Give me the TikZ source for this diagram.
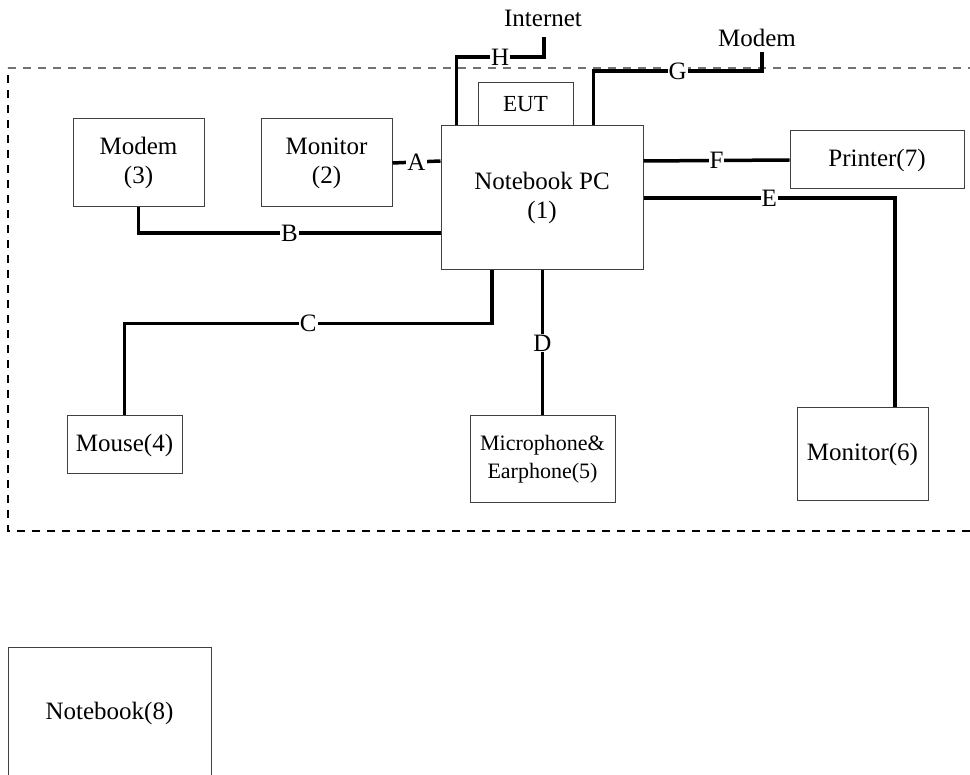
\documentclass[tikz,border=0pt]{standalone}
\usepackage{fontspec}
\setmainfont{Liberation Serif}
\begin{document}
\begin{tikzpicture}[x=1pt,y=-1pt, font=\fontsize{25}{29}\selectfont, line join=miter,
	box/.style={draw=black!75, line width=1pt, inner sep=0pt, align=center},
	cable/.style={line width=3.5pt},
	lbl/.style={fill=white, inner sep=1pt},
	frame/.style={line width=1.1pt, dash pattern=on 8pt off 7pt}]
	\useasboundingbox (0,0) rectangle (970,775);
	% dashed test area
	\draw[frame, black!55] (8,68)--(970,68);
	\draw[frame] (970,531)--(8,531)--(8,68);
	% units
	\node[box, minimum width=202, minimum height=144] (pc) at (542,198) {Notebook PC\\(1)};
	\node[box, minimum width=95, minimum height=43, font=\fontsize{23}{27}\selectfont] (eut) at (525.5,104.5) {EUT};
	\node[box, minimum width=131, minimum height=88] (modem3) at (138.5,163) {Modem\\(3)};
	\node[box, minimum width=131, minimum height=88] (monitor2) at (326.5,163) {Monitor\\(2)};
	\node[box, minimum width=174, minimum height=58] (printer) at (877,160) {Printer(7)};
	\node[box, minimum width=115, minimum height=58] (mouse) at (124.5,445) {Mouse(4)};
	\node[box, minimum width=145, minimum height=87, font=\fontsize{22}{28}\selectfont] (mic) at (542.5,459.5) {Microphone\&\\Earphone(5)};
	\node[box, minimum width=131, minimum height=93] (monitor6) at (862.5,454.5) {Monitor(6)};
	\node (internet) at (543,18) {Internet};
	\node (modemtop) at (757,38) {Modem};
	\coordinate (hend) at (544,37); \coordinate (gend) at (762,52);
	% cables
	\draw[cable] ([xshift=16pt]pc.north west) |- node[lbl,pos=0.75]{H} ([yshift=-20pt]hend) -- (hend);
	\draw[cable] ([xshift=-50pt]pc.north east) |- node[lbl,pos=0.75]{G} ([yshift=-19pt]gend) -- (gend);
	\draw[cable] (monitor2.east) -- node[lbl]{A} ([yshift=37pt]pc.west);
	\draw[cable] (modem3.south) |- node[lbl,pos=0.75]{B} ([yshift=-35pt]pc.west);
	\draw[cable] ([xshift=-50pt]pc.south) -- ++(0,53) -| node[lbl,pos=0.25]{C} (mouse.north);
	\draw[cable] (mic.north |- pc.south) -- node[lbl]{D} (mic.north);
	\draw[cable] (pc.east) -| node[lbl,pos=0.25]{E} ([xshift=32.5pt]monitor6.north);
	\draw[cable] ([yshift=37pt]pc.east) -- node[lbl]{F} (printer.west);
	% second notebook, cut off at the bottom
	\draw[draw=black!75, line width=1pt] (8,790)--(8,647)--(211,647)--(211,790);
	\node (notebook8) at (109.5,713) {Notebook(8)};
\end{tikzpicture}
\end{document}
